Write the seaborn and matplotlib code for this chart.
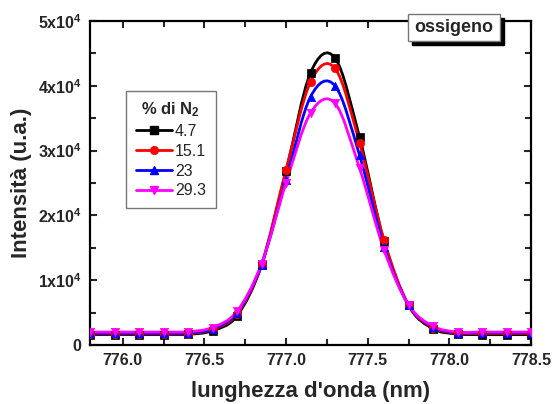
import numpy as np
import pandas as pd
import matplotlib
matplotlib.use("Agg")
import matplotlib.pyplot as plt
import seaborn as sns
from matplotlib.path import Path
from matplotlib.patches import PathPatch, Rectangle
from matplotlib.lines import Line2D
from matplotlib.ticker import MultipleLocator, FuncFormatter

# ---- data ----
wavelength = [775.80, 775.95, 776.10, 776.25, 776.40, 776.55, 776.70, 776.85, 777.00,
              777.15, 777.30, 777.45, 777.60, 777.75, 777.90, 778.05, 778.20, 778.35, 778.50]
n2_4_7 = [1600, 1600, 1600, 1600, 1650, 2200, 4500, 12300, 26800,
          42000, 44300, 32100, 16000, 6100, 2500, 1700, 1600, 1600, 1600]
n2_15_1 = [1700, 1700, 1700, 1700, 1750, 2400, 4800, 12400, 27000,
           40600, 42700, 31200, 16200, 6200, 2700, 1800, 1800, 1800, 1800]
n2_23 = [1800, 1800, 1800, 1800, 1850, 2500, 5000, 12400, 25500,
         38300, 40000, 29300, 15200, 6200, 2800, 1900, 1900, 1900, 1900]
n2_29_3 = [2000, 2000, 2000, 2000, 2050, 2700, 5200, 12500, 25000,
           35800, 37300, 27300, 14700, 6200, 2900, 2000, 2000, 2000, 2000]
series_labels = ["4.7", "15.1", "23", "29.3"]
series_values = [n2_4_7, n2_15_1, n2_23, n2_29_3]
colors = ["#000000", "#ff0000", "#0000ff", "#ff00ff"]
markers = ["s", "o", "^", "v"]
y_ticks = [0, 10000, 20000, 30000, 40000, 50000]
y_tick_labels = ["0", "1x10$^4$", "2x10$^4$", "3x10$^4$", "4x10$^4$", "5x10$^4$"]

sns.set_style("ticks")
plt.rcParams["font.family"] = ["Liberation Sans", "DejaVu Sans"]
plt.rcParams["font.weight"] = "bold"
plt.rcParams["mathtext.fontset"] = "custom"
plt.rcParams["mathtext.rm"] = "Liberation Sans:bold"
plt.rcParams["mathtext.it"] = "Liberation Sans:bold"
plt.rcParams["mathtext.bf"] = "Liberation Sans:bold"
plt.rcParams["mathtext.default"] = "rm"

fig = plt.figure(figsize=(5.52, 4.04), dpi=100)
ax = fig.add_axes([90 / 552, 59 / 404, 441 / 552, 324 / 404])

def smooth_path(xs, ys):
    xs = np.asarray(xs, float)
    ys = np.asarray(ys, float)
    pts = np.column_stack([xs, ys])
    n = len(pts)
    verts = [pts[0]]
    codes = [Path.MOVETO]
    for i in range(n - 1):
        p0 = pts[i - 1] if i > 0 else pts[i]
        p1 = pts[i]
        p2 = pts[i + 1]
        p3 = pts[i + 2] if i + 2 < n else pts[i + 1]
        c1 = p1 + (p2 - p0) / 6.0
        c2 = p2 - (p3 - p1) / 6.0
        verts += [c1, c2, p2]
        codes += [Path.CURVE4] * 3
    return Path(verts, codes)

for lab, vals, c, m in zip(series_labels, series_values, colors, markers):
    patch = PathPatch(smooth_path(wavelength, vals), fill=False, edgecolor=c, lw=2, zorder=2)
    ax.add_patch(patch)
    df = pd.DataFrame({"x": wavelength, "y": vals})
    sns.scatterplot(data=df, x="x", y="y", marker=m, color=c, s=36, edgecolor=c,
                    linewidth=0.5, ax=ax, zorder=3, legend=False)

ax.set_xlim(775.8, 778.5)
ax.set_ylim(0, 50000)
ax.xaxis.set_major_locator(MultipleLocator(0.5))
ax.xaxis.set_minor_locator(MultipleLocator(0.25))
ax.xaxis.set_major_formatter(FuncFormatter(lambda v, p: f"{v:.1f}"))
ax.set_yticks(y_ticks)
ax.set_yticklabels(y_tick_labels)
ax.yaxis.set_minor_locator(MultipleLocator(5000))

ax.tick_params(which="both", direction="in", top=True, right=True, width=1.5)
ax.tick_params(which="major", length=5, labelsize=11.5, pad=6)
ax.tick_params(which="minor", length=4)
for lbl in ax.get_xticklabels() + ax.get_yticklabels():
    lbl.set_fontweight("bold")
for s in ax.spines.values():
    s.set_visible(True)
    s.set_linewidth(1.6)
    s.set_color("black")

ax.set_xlabel("lunghezza d'onda (nm)", fontsize=16, fontweight="bold", labelpad=9)
ax.set_ylabel("Intensità (u.a.)", fontsize=16, fontweight="bold", labelpad=4)

handles = [Line2D([], [], color=c, marker=m, lw=2, ms=5.5) for c, m in zip(colors, markers)]
leg = ax.legend(handles, series_labels, title="% di N$_2$", loc="upper left",
                bbox_to_anchor=(0.082, 0.784), borderaxespad=0, frameon=True,
                fancybox=False, handlelength=2.3, handletextpad=0.15,
                labelspacing=0.3, fontsize=11.5, title_fontsize=12, borderpad=0.6)
leg.get_frame().set_edgecolor("#555555")
leg.get_frame().set_linewidth(1.0)
for t in leg.get_texts():
    t.set_fontweight("normal")
leg.get_title().set_fontweight("bold")

# "ossigeno" box with shadow
fig.patches.append(Rectangle((412 / 552, 1 - 45 / 404), 92 / 552, 27 / 404,
                             transform=fig.transFigure, facecolor="black",
                             edgecolor="black", zorder=10))
fig.patches.append(Rectangle((408 / 552, 1 - 41 / 404), 92 / 552, 27 / 404,
                             transform=fig.transFigure, facecolor="white",
                             edgecolor="#777777", lw=1, zorder=11))
fig.text(454 / 552, 1 - 27.5 / 404, "ossigeno", ha="center", va="center",
         fontsize=13, fontweight="bold", zorder=12)

fig.savefig("out.png", dpi=100)
